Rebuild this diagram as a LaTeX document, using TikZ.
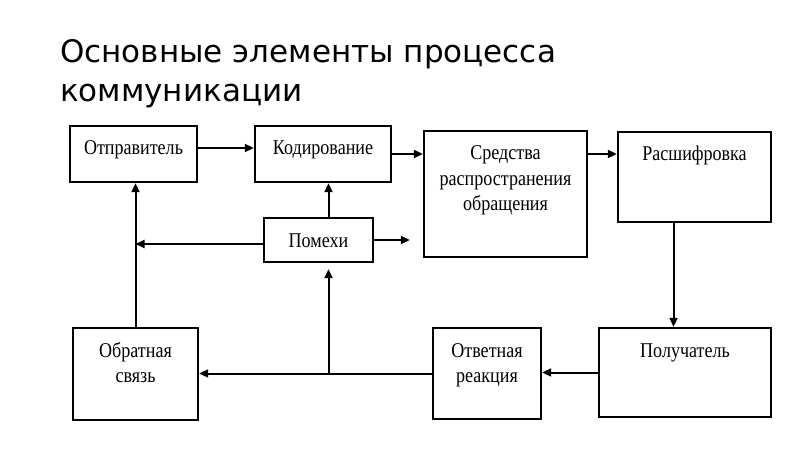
\documentclass[tikz,border=0pt]{standalone}
\usepackage{fontspec}
\setmainfont{Liberation Serif}
\newfontfamily\titlefont{DejaVu Sans}
\newfontfamily\boxfont[FakeStretch=0.86]{Liberation Serif}
\usetikzlibrary{arrows.meta, positioning}
\tikzstyle{block} = [rectangle, draw=black, line width=2.4pt, inner sep=0pt, text height=29pt, font=\boxfont\fontsize{21}{25.5}\selectfont]
\tikzstyle{heading} = [anchor=base west, inner sep=0pt, font=\titlefont\fontsize{31}{39}\selectfont]
\tikzstyle{arrow} = [line width=2pt, -{Triangle[length=9pt,width=8pt]}]
\newcommand{\boxlines}[1]{\begin{tabular}[t]{@{}c@{}}#1\end{tabular}}

\begin{document}
\begin{tikzpicture}[x=1pt, y=-1pt]
\useasboundingbox (0,0) rectangle (800,449);

\node (title) [heading] at (60,63) {\begin{tabular}[t]{@{}l@{}}Основные элементы процесса\\коммуникации\end{tabular}};

\node (sender) [block, minimum width=127pt, text depth=27pt] at (133.5,154) {Отправитель};
\node (coding) [block, minimum width=136pt, text depth=27pt] at (323,154) {Кодирование};
\node (media) [block, minimum width=163pt, text depth=97pt] at (505.5,194) {\boxlines{Средства\\распространения\\обращения}};
\node (decoding) [block, minimum width=153pt, text depth=61pt] at (694.5,177) {Расшифровка};
\node (noise) [block, minimum width=109pt, text depth=15pt] at (318.5,240) {Помехи};
\node (feedback) [block, minimum width=125pt, text depth=63pt] at (135.5,374) {\boxlines{Обратная\\связь}};
\node (response) [block, minimum width=108pt, text depth=62pt] at (487,373.5) {\boxlines{Ответная\\реакция}};
\node (receiver) [block, minimum width=172pt, text depth=60pt] at (685,372.5) {Получатель};

\coordinate (tap) at (328.5,374);
\coordinate (noiseleft) at ([yshift=-4pt]noise.west);

\draw [arrow] ([yshift=6pt]sender.east) -- ([yshift=6pt]coding.west);
\draw [arrow] (coding.east) -- (coding.east -| media.west);
\draw [arrow] (media.east |- coding.east) -- (decoding.west |- coding.east);
\draw [arrow] ([xshift=-21pt]decoding.south) -- ([xshift=-21pt]decoding.south |- receiver.north);
\draw [arrow] (receiver.west) -- (receiver.west -| response.east);
\draw [arrow] (response.west) -- (response.west -| feedback.east);
\draw [arrow] (tap) -- ([yshift=-6pt]tap |- noise.south);
\draw [arrow] (tap |- noise.north) -- (tap |- coding.south);
\draw [arrow] (noiseleft) -- (feedback.north |- noiseleft);
\draw [arrow] (noise.east) -- ([xshift=-13pt]media.west |- noise.east);
\draw [arrow] (feedback.north) -- (feedback.north |- sender.south);

\end{tikzpicture}
\end{document}
